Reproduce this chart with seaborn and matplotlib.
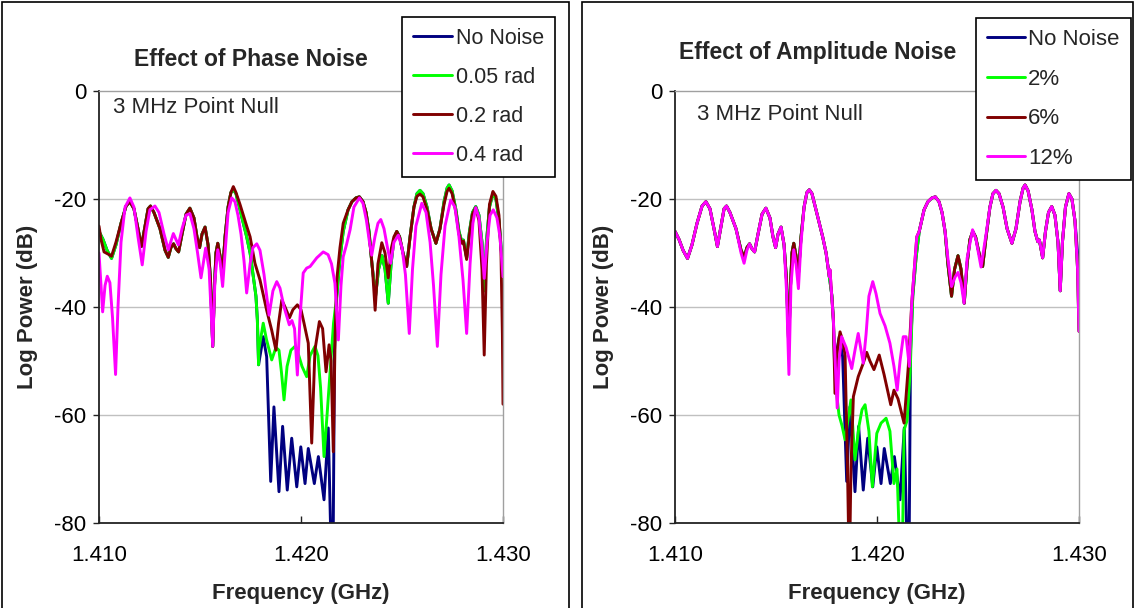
import numpy as np
import pandas as pd
import matplotlib
matplotlib.use("Agg")
import matplotlib.pyplot as plt
from matplotlib.patches import Rectangle
from matplotlib.lines import Line2D
import seaborn as sns

# ---------------- data ----------------
x_ticks = [1.410, 1.420, 1.430]
y_ticks = [0, -20, -40, -60, -80]

titles = ["Effect of Phase Noise", "Effect of Amplitude Noise"]
note = "3 MHz Point Null"
labels_left = ["No Noise", "0.05 rad", "0.2 rad", "0.4 rad"]
labels_right = ["No Noise", "2%", "6%", "12%"]

# No-noise pattern (same in both panels)
base_x = [1.41000, 1.41020, 1.41040, 1.41062, 1.41084, 1.41109, 1.41134, 1.41153, 1.41173, 1.41193,
          1.41210, 1.41228, 1.41243, 1.41255, 1.41272, 1.41302, 1.41327, 1.41343, 1.41356, 1.41369,
          1.41381, 1.41394, 1.41411, 1.41431, 1.41450, 1.41470, 1.41485, 1.41498, 1.41510, 1.41525,
          1.41540, 1.41552, 1.41563, 1.41572, 1.41579, 1.41588, 1.41599, 1.41611, 1.41624, 1.41639,
          1.41653, 1.41665, 1.41678, 1.41698, 1.41731, 1.41748, 1.41764, 1.41777, 1.41784, 1.41790,
          1.41802, 1.41813, 1.41830, 1.41850, 1.41866, 1.41891, 1.41909, 1.41932, 1.41954, 1.41979,
          1.41999, 1.42020, 1.42036, 1.42066, 1.42086, 1.42114, 1.42135, 1.42152, 1.42158, 1.42166,
          1.42177, 1.42193, 1.42209, 1.42233, 1.42252, 1.42272, 1.42289, 1.42307, 1.42322, 1.42337,
          1.42351, 1.42369, 1.42384, 1.42401, 1.42416, 1.42432, 1.42446, 1.42460, 1.42474, 1.42488,
          1.42505, 1.42523, 1.42540, 1.42559, 1.42574, 1.42589, 1.42604, 1.42624, 1.42644, 1.42668,
          1.42688, 1.42708, 1.42723, 1.42733, 1.42748, 1.42767, 1.42782, 1.42796, 1.42804, 1.42820,
          1.42834, 1.42849, 1.42865, 1.42881, 1.42896, 1.42907, 1.42918, 1.42933, 1.42950, 1.42965,
          1.42980, 1.42993, 1.43000]
base_y = [-26.0, -27.5, -29.5, -31.0, -28.5, -24.5, -21.3, -20.5, -21.8, -25.5,
          -28.8, -25.0, -21.8, -21.3, -22.5, -25.5, -29.5, -30.8, -29.0, -28.3,
          -29.2, -29.8, -26.5, -22.8, -21.7, -23.5, -27.0, -29.0, -26.5, -25.2,
          -28.5, -35.0, -47.3, -36.0, -30.0, -28.2, -30.5, -34.0, -27.0, -21.5,
          -18.8, -18.3, -19.0, -22.0, -27.0, -30.0, -34.4, -38.0, -42.4, -50.7,
          -48.0, -45.5, -49.2, -72.3, -58.5, -74.2, -62.1, -73.9, -64.3, -73.3,
          -65.9, -72.7, -66.2, -72.7, -67.7, -75.7, -62.4, -90.0, -90.0, -48.0,
          -38.0, -31.0, -26.0, -22.0, -20.5, -19.8, -19.6, -20.5, -22.5, -26.0,
          -32.0, -38.0, -33.0, -30.5, -33.0, -39.3, -32.0, -27.5, -26.0, -27.0,
          -30.0, -32.5, -27.0, -21.5, -19.0, -18.4, -19.0, -21.5, -25.5, -28.2,
          -25.5, -20.5, -18.0, -17.4, -18.5, -22.0, -26.0, -27.9, -27.6, -30.9,
          -26.0, -22.5, -21.4, -23.0, -28.0, -37.0, -28.0, -21.5, -19.0, -20.0,
          -24.0, -30.0, -34.0]

# 0.05 rad phase noise: null region
ph005_null_x = [1.41791, 1.41802, 1.41813, 1.41829, 1.41855, 1.41876, 1.41891, 1.41903, 1.41916, 1.41931,
                1.41950, 1.41970, 1.41985, 1.42005, 1.42028, 1.42045, 1.42069, 1.42084, 1.42097, 1.42114,
                1.42129, 1.42144, 1.42161, 1.42177]
ph005_null_y = [-48.0, -45.5, -43.0, -46.0, -49.8, -47.5, -48.0, -52.0, -57.2, -51.0,
                -48.0, -47.3, -48.5, -51.0, -52.9, -49.0, -47.3, -49.0, -55.0, -67.7,
                -60.0, -52.0, -43.0, -38.0]

# 0.2 rad phase noise
ph02_start_x = [1.41000, 1.41010, 1.41025, 1.41045, 1.41062, 1.41084]
ph02_start_y = [-25.0, -27.5, -29.8, -30.2, -30.6, -28.0]
ph02_null_x = [1.41665, 1.41678, 1.41698, 1.41731, 1.41748, 1.41772, 1.41797, 1.41830, 1.41855, 1.41876,
               1.41889, 1.41905, 1.41921, 1.41943, 1.41960, 1.41982, 1.42000, 1.42015, 1.42036, 1.42053,
               1.42069, 1.42091, 1.42107, 1.42124, 1.42139, 1.42149, 1.42160, 1.42169, 1.42177, 1.42193,
               1.42209]
ph02_null_y = [-17.7, -18.8, -21.0, -25.0, -27.0, -31.9, -35.0, -40.6, -44.3, -48.0,
               -43.0, -38.7, -40.0, -42.0, -40.5, -39.6, -40.5, -43.0, -46.7, -65.2,
               -48.0, -42.7, -44.0, -52.0, -47.0, -50.0, -66.8, -45.0, -35.0, -29.0,
               -24.5]
ph02_mid_x = [1.42337, 1.42354, 1.42367, 1.42381, 1.42400, 1.42416, 1.42432, 1.42448, 1.42460]
ph02_mid_y = [-26.5, -33.0, -40.6, -32.0, -28.1, -30.0, -34.6, -29.0, -27.0]
ph02_end_x = [1.42574, 1.42589, 1.42604, 1.42624, 1.42644, 1.42668, 1.42688, 1.42708, 1.42723, 1.42733,
              1.42748, 1.42767, 1.42782, 1.42796, 1.42804, 1.42820, 1.42834, 1.42849, 1.42865, 1.42881,
              1.42896, 1.42907, 1.42918, 1.42933, 1.42950, 1.42965, 1.42980, 1.42990, 1.42997, 1.43000]
ph02_end_y = [-19.5, -19.1, -19.6, -22.0, -25.5, -28.2, -25.5, -21.0, -18.6, -18.0,
              -19.0, -22.5, -26.5, -28.2, -27.8, -31.2, -26.5, -22.8, -21.6, -24.0,
              -33.0, -48.9, -32.0, -21.0, -18.6, -19.5, -23.0, -30.0, -45.0, -58.0]

# 0.4 rad phase noise (whole trace)
ph04_x = [1.41000, 1.41018, 1.41030, 1.41041, 1.41054, 1.41067, 1.41082, 1.41094, 1.41109, 1.41129,
          1.41153, 1.41173, 1.41193, 1.41214, 1.41233, 1.41252, 1.41277, 1.41297, 1.41322, 1.41343,
          1.41368, 1.41393, 1.41411, 1.41431, 1.41450, 1.41470, 1.41488, 1.41505, 1.41528, 1.41545,
          1.41563, 1.41574, 1.41588, 1.41599, 1.41612, 1.41624, 1.41639, 1.41657, 1.41673, 1.41688,
          1.41703, 1.41718, 1.41731, 1.41748, 1.41762, 1.41781, 1.41797, 1.41817, 1.41842, 1.41861,
          1.41880, 1.41896, 1.41916, 1.41942, 1.41955, 1.41968, 1.41982, 1.41995, 1.42011, 1.42028,
          1.42045, 1.42078, 1.42110, 1.42134, 1.42151, 1.42168, 1.42185, 1.42198, 1.42209, 1.42225,
          1.42243, 1.42262, 1.42289, 1.42307, 1.42324, 1.42339, 1.42350, 1.42366, 1.42381, 1.42395,
          1.42411, 1.42428, 1.42444, 1.42460, 1.42482, 1.42500, 1.42517, 1.42536, 1.42552, 1.42569,
          1.42598, 1.42619, 1.42639, 1.42656, 1.42675, 1.42693, 1.42713, 1.42741, 1.42762, 1.42782,
          1.42802, 1.42820, 1.42837, 1.42851, 1.42865, 1.42881, 1.42896, 1.42907, 1.42921, 1.42936,
          1.42952, 1.42970, 1.42985, 1.43000]
ph04_y = [-30.0, -40.9, -36.0, -34.3, -35.5, -42.0, -52.5, -40.0, -28.0, -21.5,
          -19.8, -21.5, -27.0, -32.2, -26.0, -22.0, -21.3, -22.5, -26.5, -29.4,
          -26.4, -28.5, -25.5, -23.0, -22.7, -25.5, -30.0, -34.6, -29.1, -33.0,
          -47.3, -35.0, -29.4, -31.5, -36.2, -30.0, -22.5, -19.8, -20.5, -23.0,
          -26.5, -31.5, -37.4, -32.0, -29.0, -28.3, -29.5, -34.0, -41.5, -37.0,
          -35.3, -36.5, -40.0, -43.3, -42.5, -44.0, -52.6, -42.0, -33.7, -32.8,
          -32.5, -30.9, -29.8, -30.3, -32.0, -35.6, -46.1, -36.0, -30.7, -28.5,
          -25.7, -21.5, -19.8, -20.8, -24.0, -28.0, -30.4, -27.0, -24.5, -23.8,
          -25.5, -29.0, -31.9, -28.0, -26.7, -29.0, -34.0, -44.9, -33.0, -25.0,
          -20.8, -22.5, -28.0, -36.0, -47.3, -34.0, -25.0, -20.2, -21.5, -27.0,
          -35.0, -44.9, -32.0, -24.5, -21.6, -23.5, -29.0, -34.7, -28.0, -23.0,
          -22.0, -23.5, -27.0, -34.4]

# 2 % amplitude noise
am2_null_x = [1.41784, 1.41797, 1.41812, 1.41827, 1.41842, 1.41871, 1.41891, 1.41911, 1.41926, 1.41941,
              1.41960, 1.41977, 1.41999, 1.42020, 1.42045, 1.42064, 1.42084, 1.42099, 1.42117, 1.42124,
              1.42134, 1.42149, 1.42164, 1.42177]
am2_null_y = [-42.4, -55.0, -60.0, -62.0, -64.6, -57.2, -68.3, -62.0, -59.0, -58.1,
              -63.0, -73.3, -63.4, -61.5, -60.6, -63.0, -72.7, -70.0, -90.0, -90.0,
              -62.8, -61.0, -52.0, -38.0]
am_end_x = [1.42980, 1.42993, 1.43000]
am_end_y = [-24.0, -33.0, -44.5]

# 6 % amplitude noise
am6_null_x = [1.41767, 1.41784, 1.41792, 1.41804, 1.41817, 1.41832, 1.41842, 1.41854, 1.41863, 1.41871,
              1.41883, 1.41907, 1.41932, 1.41949, 1.41965, 1.41985, 1.42011, 1.42035, 1.42068, 1.42084,
              1.42104, 1.42134, 1.42155, 1.42172, 1.42197]
am6_null_y = [-33.1, -42.4, -56.0, -48.0, -44.6, -46.5, -49.0, -70.0, -90.0, -70.0,
              -56.6, -52.9, -50.4, -48.4, -50.0, -51.6, -48.9, -52.5, -58.1, -55.4,
              -57.0, -61.5, -51.0, -39.3, -27.0]

# 12 % amplitude noise
am12_a_x = [1.41327, 1.41342, 1.41356]
am12_a_y = [-30.0, -31.9, -29.5]
am12_b_x = [1.41552, 1.41564, 1.41574, 1.41588, 1.41599, 1.41611, 1.41624]
am12_b_y = [-37.0, -52.5, -36.0, -29.4, -32.0, -36.6, -28.0]
am12_null_x = [1.41767, 1.41784, 1.41803, 1.41812, 1.41825, 1.41847, 1.41875, 1.41891, 1.41907, 1.41921,
               1.41932, 1.41946, 1.41960, 1.41979, 1.41995, 1.42015, 1.42040, 1.42064, 1.42084, 1.42100,
               1.42114, 1.42130, 1.42144, 1.42160, 1.42172, 1.42197]
am12_null_y = [-33.1, -42.4, -58.7, -50.0, -45.5, -47.5, -51.4, -48.0, -44.9, -48.0,
               -50.4, -45.0, -38.0, -35.3, -37.5, -41.2, -43.5, -46.7, -51.0, -55.4,
               -50.0, -45.5, -45.5, -51.0, -39.3, -27.0]
am12_d_x = [1.42351, 1.42369, 1.42386, 1.42401, 1.42416, 1.42431, 1.42446, 1.42473, 1.42490, 1.42515, 1.42540]
am12_d_y = [-31.0, -36.2, -34.5, -33.6, -35.5, -39.3, -31.0, -25.7, -27.5, -32.6, -26.5]

colors = ["#000080", "#00FF00", "#800000", "#FF00FF"]


def splice(bx, by, *segs):
    """Replace parts of the no-noise trace by the traced deviations of a noisy trace."""
    x = np.asarray(bx, float)
    y = np.asarray(by, float)
    for sx, sy in segs:
        sx = np.asarray(sx, float)
        sy = np.asarray(sy, float)
        keep = (x < sx[0] - 1e-9) | (x > sx[-1] + 1e-9)
        x = np.concatenate([x[keep], sx])
        y = np.concatenate([y[keep], sy])
        o = np.argsort(x, kind="stable")
        x, y = x[o], y[o]
    return x, y


left_series = [
    (base_x, base_y),
    splice(base_x, base_y, (ph005_null_x, ph005_null_y)),
    splice(base_x, base_y, (ph02_start_x, ph02_start_y), (ph02_null_x, ph02_null_y),
           (ph02_mid_x, ph02_mid_y), (ph02_end_x, ph02_end_y)),
    (ph04_x, ph04_y),
]
right_series = [
    (base_x, base_y),
    splice(base_x, base_y, (am2_null_x, am2_null_y), (am_end_x, am_end_y)),
    splice(base_x, base_y, (am6_null_x, am6_null_y), (am_end_x, am_end_y)),
    splice(base_x, base_y, (am12_a_x, am12_a_y), (am12_b_x, am12_b_y),
           (am12_null_x, am12_null_y), (am12_d_x, am12_d_y), (am_end_x, am_end_y)),
]


def frame(series, labels):
    rows = []
    for (sx, sy), lab in zip(series, labels):
        rows.append(pd.DataFrame({"freq": np.asarray(sx, float),
                                  "power": np.asarray(sy, float),
                                  "series": lab}))
    return pd.concat(rows, ignore_index=True)


# ---------------- figure ----------------
sns.set_theme(style="white")
plt.rcParams["font.family"] = ["Liberation Sans", "DejaVu Sans"]
plt.rcParams["axes.unicode_minus"] = False

W, H = 1135, 608
fig = plt.figure(figsize=(W / 100, H / 100), dpi=100)
fig.patch.set_facecolor("white")


def fxy(px, py):
    return px / W, 1 - py / H


panels = [
    dict(ax_left=99, series=left_series, labels=labels_left, title=titles[0],
         title_xy=(251, 59), note_xy=(113, 108), legend_xy=(402, 17),
         frame=(2, 569), ylab_x=28, handlelength=1.8, handletextpad=0.2, fs=15.5),
    dict(ax_left=675, series=right_series, labels=labels_right, title=titles[1],
         title_xy=(818, 53), note_xy=(697, 115), legend_xy=(976, 18),
         frame=(582, 1133), ylab_x=604, handlelength=1.7, handletextpad=0.15, fs=16),
]

for p in panels:
    x0 = p["ax_left"]
    ax = fig.add_axes([x0 / W, 1 - 523 / H, 404 / W, 432 / H])
    df = frame(p["series"], p["labels"])
    sns.lineplot(data=df, x="freq", y="power", hue="series", hue_order=p["labels"],
                 palette=colors, estimator=None, sort=False, linewidth=2.1,
                 legend=False, ax=ax)
    ax.set_xlim(x_ticks[0], x_ticks[-1])
    ax.set_ylim(y_ticks[-1], y_ticks[0])
    ax.set_xticks(x_ticks)
    ax.set_xticklabels([f"{v:.3f}" for v in x_ticks])
    ax.set_yticks(y_ticks)
    ax.set_yticklabels([str(v) for v in y_ticks])
    ax.set_xlabel("")
    ax.set_ylabel("")
    ax.grid(False)
    for yv in y_ticks[1:-1]:
        ax.axhline(yv, color="#c0c0c0", lw=1.0, zorder=0)
    ax.tick_params(axis="x", direction="in", length=5, width=1, pad=16,
                   labelsize=16, bottom=True, colors="#222222", labelcolor="black")
    ax.tick_params(axis="y", direction="out", length=4, width=1, pad=5,
                   labelsize=16, left=True, colors="#222222", labelcolor="black")
    for s in ["left", "bottom"]:
        ax.spines[s].set_color("#222222")
        ax.spines[s].set_linewidth(1.3)
    for s in ["top", "right"]:
        ax.spines[s].set_color("#a0a0a0")
        ax.spines[s].set_linewidth(1.0)
    ax.set_facecolor("white")

    # text
    tx, ty = fxy(*p["title_xy"])
    fig.text(tx, ty, p["title"], ha="center", va="center", fontsize=16.5, fontweight="bold")
    nx, ny = fxy(*p["note_xy"])
    fig.text(nx, ny, note, ha="left", va="center", fontsize=16)
    lx, ly = fxy(p["ylab_x"], 307)
    fig.text(lx, ly, "Log Power (dB)", ha="center", va="center", rotation=90,
             fontsize=16, fontweight="bold")
    xx, xy = fxy(x0 + 202, 593)
    fig.text(xx, xy, "Frequency (GHz)", ha="center", va="center",
             fontsize=16, fontweight="bold")

    # legend
    handles = [Line2D([0], [0], color=c, lw=2.1) for c in colors]
    bx, by = fxy(*p["legend_xy"])
    leg = ax.legend(handles, p["labels"], loc="upper left", bbox_to_anchor=(bx, by),
                    bbox_transform=fig.transFigure, frameon=True, fancybox=False,
                    edgecolor="black", framealpha=1, fontsize=p["fs"],
                    handlelength=p["handlelength"], handletextpad=p["handletextpad"],
                    labelspacing=0.84, borderpad=0.5, borderaxespad=0)
    leg.get_frame().set_linewidth(1.2)
    leg.set_zorder(10)

    # panel frame
    f0, f1 = p["frame"]
    fig.add_artist(Rectangle((f0 / W, -10 / H), (f1 - f0) / W, (H - 2 + 10) / H,
                             transform=fig.transFigure, fill=False,
                             edgecolor="black", linewidth=1.2))

fig.savefig("out.png", dpi=100, facecolor="white")
